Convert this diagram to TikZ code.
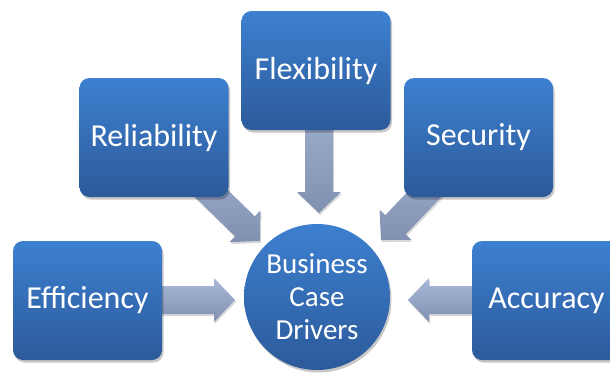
\documentclass[tikz,border=0pt]{standalone}
\usepackage{fontspec}
\setmainfont{Carlito}
\usetikzlibrary{calc,shadows}
\pgfdeclarelayer{bg}
\pgfsetlayers{bg,main}
\definecolor{boxtop}{HTML}{3D80D0}
\definecolor{boxbot}{HTML}{2C5A9A}
\definecolor{arrtop}{HTML}{A9B9D9}
\definecolor{arrbot}{HTML}{8090B0}
\tikzset{
  softshadow/.style={drop shadow={shadow xshift=1.5pt, shadow yshift=-2.5pt, opacity=0.22, fill=black}},
  driver/.style={rectangle, rounded corners=10pt, minimum width=149pt, minimum height=119pt,
    inner sep=0pt, top color=boxtop, bottom color=boxbot, draw=none, text=white,
    font=\fontsize{32}{36}\selectfont, softshadow},
  hub/.style={circle, minimum size=146pt, inner sep=0pt, top color=boxtop, bottom color=boxbot,
    draw=none, text=white, align=center, font=\fontsize{29}{33}\selectfont, softshadow},
  blockarrow/.style={top color=arrtop, bottom color=arrbot, draw=none,
    drop shadow={shadow xshift=1pt, shadow yshift=-2pt, opacity=0.15, fill=black},
    to path={
      let \p1=($(\tikztotarget)!21pt!(\tikztostart)$) in
      ($(\tikztostart)!14pt!90:(\tikztotarget)$) --
      ($(\p1)!14pt!-90:(\tikztostart)$) --
      ($(\p1)!22pt!-90:(\tikztostart)$) --
      (\tikztotarget) --
      ($(\p1)!22pt!90:(\tikztostart)$) --
      ($(\p1)!14pt!90:(\tikztostart)$) --
      ($(\tikztostart)!14pt!-90:(\tikztotarget)$) -- cycle}}
}
\begin{document}
\begin{tikzpicture}[x=1pt,y=-1pt]
  \useasboundingbox (0,0) rectangle (610,375);
  \node[driver] (e) at (87.5,300.5) {Efficiency};
  \node[driver] (r) at (154,137.5) {Reliability};
  \node[driver] (f) at (316,70.5) {Flexibility};
  \node[driver] (s) at (478.5,137.5) {Security};
  \node[driver] (a) at (546.5,300.5) {Accuracy};
  \node[hub] (c) at (317,297) {Business\\Case\\Drivers};
  \coordinate (tE) at (235,300);
  \coordinate (tR) at (260,241);
  \coordinate (tF) at (319,213);
  \coordinate (tS) at (381,240);
  \coordinate (tA) at (408,300);
  \begin{pgfonlayer}{bg}
    \path[blockarrow] (e |- tE) to (tE);
    \path[blockarrow] (r) to (tR);
    \path[blockarrow] (f -| tF) to (tF);
    \path[blockarrow] (s) to (tS);
    \path[blockarrow] (a |- tA) to (tA);
  \end{pgfonlayer}
\end{tikzpicture}
\end{document}
